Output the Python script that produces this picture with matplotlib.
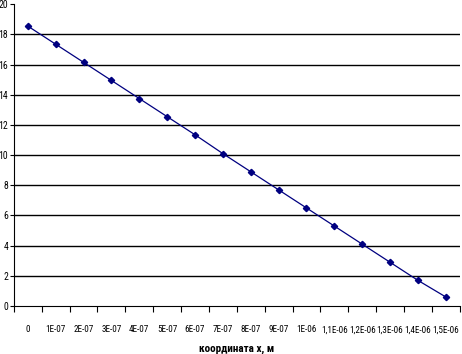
import numpy as np
import matplotlib
matplotlib.use('Agg')
import matplotlib.pyplot as plt

plt.rcParams['font.family'] = ['Roboto Condensed', 'Archivo Narrow', 'Liberation Sans', 'DejaVu Sans']

categories = ['0', '1E-07', '2E-07', '3E-07', '4E-07', '5E-07', '6E-07', '7E-07',
              '8E-07', '9E-07', '1E-06', '1,1E-06', '1,2E-06', '1,3E-06', '1,4E-06', '1,5E-06']
values = [18.55, 17.35, 16.15, 14.95, 13.75, 12.55, 11.35, 10.1,
          8.9, 7.7, 6.5, 5.3, 4.1, 2.9, 1.7, 0.6]
yticks = [0, 2, 4, 6, 8, 10, 12, 14, 16, 18, 20]

fig = plt.figure(figsize=(4.62, 3.54), dpi=100)
ax = fig.add_axes([0.03, 0.1356, 0.965, 0.8525])

x = np.arange(len(categories))
for v in yticks[1:-1]:
    ax.axhline(v, color='black', lw=1.0, zorder=1)
ax.plot(x, values, color='#000080', lw=0.9, marker='D', ms=3.2,
        markerfacecolor='#000080', markeredgecolor='#000080', zorder=3)

ax.set_xlim(-0.5, len(categories) - 0.5)
ax.set_ylim(0, 20)
ax.set_yticks(yticks)
ax.set_yticklabels([str(v) for v in yticks], fontsize=7)
ax.set_xticks(x)
ax.set_xticklabels(categories, fontsize=6.6)
ax.set_xticks(np.arange(len(categories) + 1) - 0.5, minor=True)
ax.tick_params(axis='x', which='major', length=0, pad=14)
ax.tick_params(axis='x', which='minor', length=4, width=0.8, direction='out')
ax.tick_params(axis='y', length=3, width=0.8, direction='out', pad=1)

for s in ['top', 'right']:
    ax.spines[s].set_visible(False)
ax.spines['left'].set_linewidth(0.8)
ax.spines['bottom'].set_linewidth(0.8)

ax.set_xlabel('координата x, м', fontsize=8, fontweight='bold', labelpad=7)

fig.savefig('out.png', dpi=100)
